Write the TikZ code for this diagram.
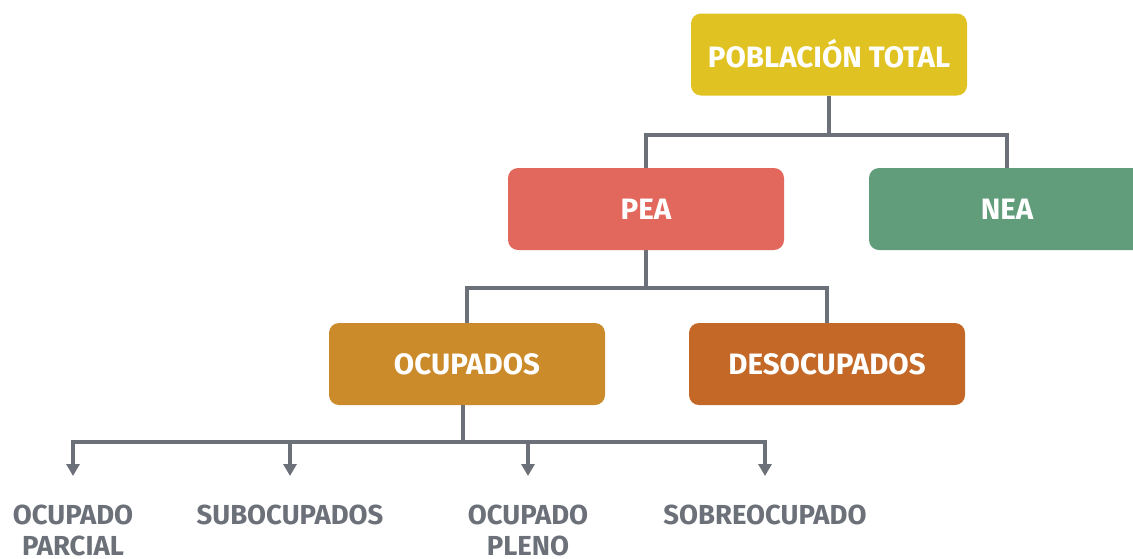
\documentclass[tikz,border=0pt]{standalone}
\usepackage{fontspec}
\setmainfont{Fira Sans}
\newfontfamily\dinfont{Fira Sans}
\usetikzlibrary{arrows.meta}
\definecolor{cyellow}{HTML}{E0C322}
\definecolor{cred}{HTML}{E2675D}
\definecolor{cgreen}{HTML}{619D7B}
\definecolor{cocher}{HTML}{CB8B2A}
\definecolor{corange}{HTML}{C36826}
\definecolor{cgray}{HTML}{6B7079}
\tikzset{
  box/.style={rounded corners=10pt, minimum width=276pt, minimum height=82pt, inner sep=0pt,
    text=white, font=\dinfont\bfseries\fontsize{29.5}{30}\selectfont},
  conn/.style={draw=cgray, line width=4pt},
  arr/.style={conn, -{Triangle[width=13pt,length=12pt]}},
  lab/.style={text=cgray, align=center, inner sep=0pt, anchor=north,
    font=\dinfont\bfseries\fontsize{27.5}{31}\selectfont}
}
\begin{document}
\begin{tikzpicture}[x=1pt,y=-1pt]
\useasboundingbox (0,0) rectangle (1133,558);
\node[box, fill=cyellow] (pt) at (829,54.5) {\raisebox{3pt}{POBLACIÓN TOTAL}};
\node[box, fill=cred] (pea) at (646,209) {PEA};
\node[box, fill=cgreen] (nea) at (1007,209) {NEA};
\node[box, fill=cocher] (ocu) at (467,364) {OCUPADOS};
\node[box, fill=corange] (des) at (827,364) {DESOCUPADOS};
\node[lab] (l1) at (73,505) {OCUPADO\\PARCIAL};
\node[lab] (l2) at (290,505) {SUBOCUPADOS};
\node[lab] (l3) at (528,505) {OCUPADO\\PLENO};
\node[lab] (l4) at (765,505) {SOBREOCUPADO};
\coordinate (j1) at (829,135);
\coordinate (j2) at (646,288);
\coordinate (j3) at (463,442);
\draw[conn] (pt.south) -- (j1);
\draw[conn] (j1) -| (pea.north);
\draw[conn] (j1) -| (nea.north);
\draw[conn] (pea.south) -- (j2);
\draw[conn] (j2) -| (ocu.north);
\draw[conn] (j2) -| (des.north);
\draw[conn] (ocu.south -| j3) -- (j3);
\draw[arr, shorten >=29pt] (j3) -| (l1.north);
\draw[arr, shorten >=29pt] (j3) -| (l2.north);
\draw[arr, shorten >=29pt] (j3) -| (l3.north);
\draw[arr, shorten >=29pt] (j3) -| (l4.north);
\end{tikzpicture}
\end{document}
